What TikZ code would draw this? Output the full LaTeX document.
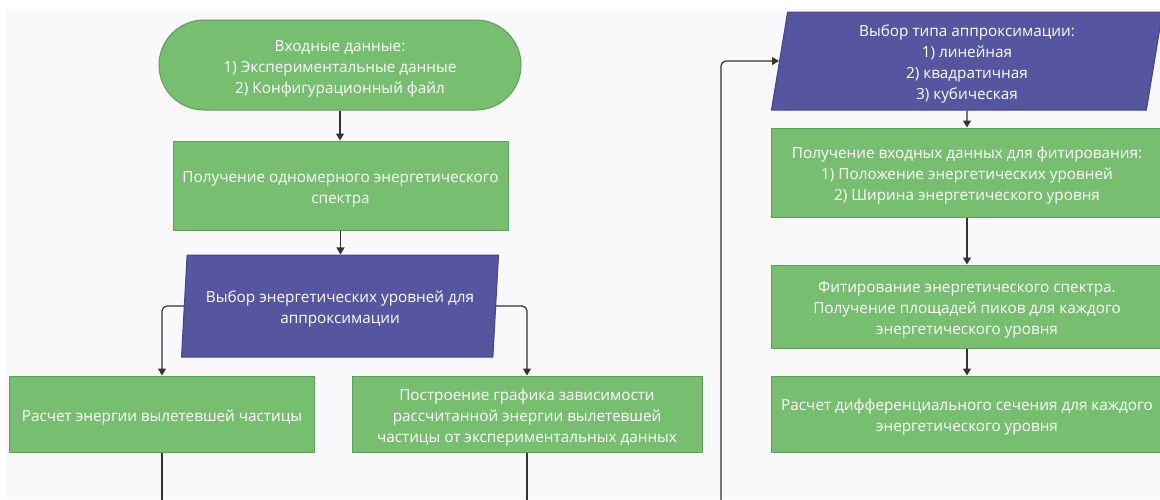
\documentclass[tikz,border=0pt]{standalone}
\usepackage{fontspec}
\setmainfont{Open Sans}
\usetikzlibrary{shapes.geometric,arrows.meta}
\definecolor{bgc}{HTML}{F9F9FB}
\definecolor{gfill}{HTML}{78BE71}
\definecolor{gline}{HTML}{5E9E58}
\definecolor{pfill}{HTML}{5555A0}
\definecolor{pline}{HTML}{45458A}
\definecolor{connc}{HTML}{333333}
\newcommand\toppad{\rule{0pt}{18.5pt}}
\begin{document}
\begin{tikzpicture}[x=1pt,y=-1pt,
  base/.style={text=white, font=\fontsize{15.3}{21}\selectfont, align=center, inner sep=0pt, line width=1pt},
  procbox/.style={base, rectangle, fill=gfill, draw=gline},
  termbox/.style={base, rectangle, rounded corners=45pt, fill=gfill, draw=gline},
  iobox/.style={base, trapezium, trapezium left angle=83.5, trapezium right angle=96.5, trapezium stretches=true, fill=pfill, draw=pline},
  conn/.style={draw=connc, line width=1.2pt, rounded corners=5pt},
  arr/.style={conn, -{Triangle[length=7pt,width=8pt]}}
]
\useasboundingbox (0,0) rectangle (1160,499);
\fill[white] (0,0) rectangle (1160,499);
\fill[bgc] (6,9) rectangle (1160,499);

\node[termbox, minimum width=362pt, minimum height=90pt] (start) at (340,65) {\toppad Входные данные:\\1) Экспериментальные данные\\2) Конфигурационный файл};
\node[procbox, minimum width=335pt, minimum height=89pt] (spec) at (340.5,185.5) {\toppad Получение одномерного энергетического\\спектра};
\node[iobox, minimum width=318pt, minimum height=102pt] (sel) at (340,306) {\toppad Выбор энергетических уровней для\\аппроксимации};
\node[procbox, minimum width=305pt, minimum height=76pt] (calc) at (162,414) {\toppad Расчет энергии вылетевшей частицы};
\node[procbox, minimum width=350pt, minimum height=76pt] (plot) at (527,414) {\toppad Построение графика зависимости\\рассчитанной энергии вылетевшей\\частицы от экспериментальных данных};
\node[iobox, minimum width=392pt, minimum height=98pt] (type) at (967,61) {\toppad Выбор типа аппроксимации:\\1) линейная\\2) квадратичная\\3) кубическая};
\node[procbox, minimum width=392pt, minimum height=89pt] (fitin) at (967,172.5) {\toppad Получение входных данных для фитирования:\\1) Положение энергетических уровней\\2) Ширина энергетического уровня};
\node[procbox, minimum width=392pt, minimum height=83pt] (fit) at (967,306.5) {\toppad Фитирование энергетического спектра.\\Получение площадей пиков для каждого\\энергетического уровня};
\node[procbox, minimum width=392pt, minimum height=76pt] (xs) at (967,414) {\toppad Расчет дифференциального сечения для каждого\\энергетического уровня};

\coordinate (calcout) at (162,510);
\coordinate (plotout) at (527,510);
\coordinate (loopin) at (721,510);

\draw[arr] (start.south) -- (start.south |- spec.north);
\draw[arr] (spec.south) -- (spec.south |- sel.north);
\draw[arr] (sel.west) -| (calc.north);
\draw[arr] (sel.east) -| (plot.north);
\draw[conn] (calc) -- (calcout);
\draw[conn] (plot) -- (plotout);
\draw[arr] (loopin) |- (type.west);
\draw[arr] (type.south) -- (fitin.north);
\draw[arr] (fitin) -- (fit);
\draw[arr] (fit) -- (xs);
\end{tikzpicture}
\end{document}
